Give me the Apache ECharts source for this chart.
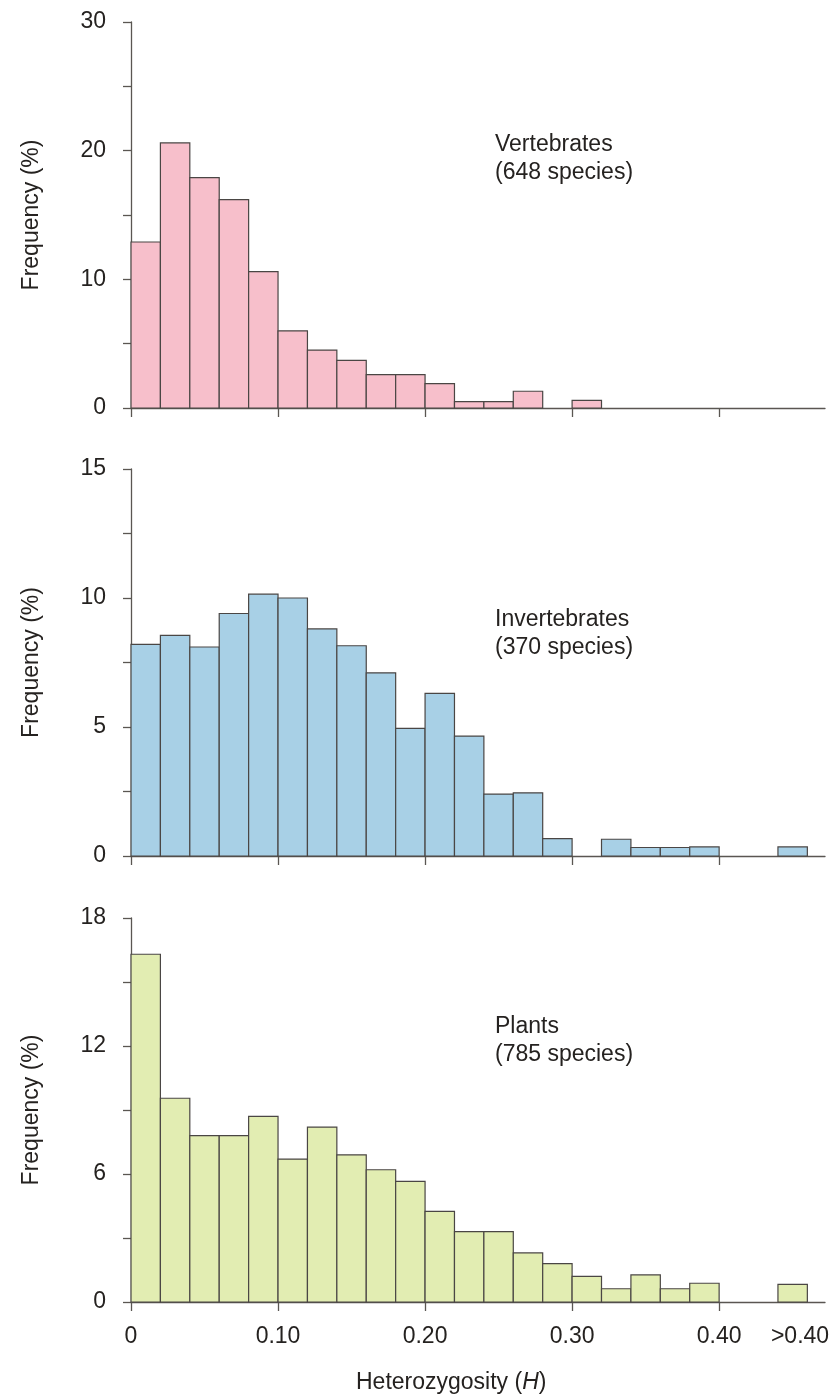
<!DOCTYPE html>
<html>
<head>
<meta charset="utf-8">
<script src="https://cdn.jsdelivr.net/npm/echarts@6/dist/echarts.min.js"></script>
<style>
  html, body { margin: 0; padding: 0; background: #ffffff; }
  #chart { width: 838px; height: 1399px; }
</style>
</head>
<body>
<div id="chart"></div>
<script>
// Histogram bins of heterozygosity H (width 0.02); the last bin holds H > 0.40
const binStarts = [0, 0.02, 0.04, 0.06, 0.08, 0.10, 0.12, 0.14, 0.16, 0.18,
                   0.20, 0.22, 0.24, 0.26, 0.28, 0.30, 0.32, 0.34, 0.36, 0.38,
                   0.40, 0.42, 0.44];
const binWidth = 0.02;

// Frequency (%) of species in each bin
const vertebrates = [12.9, 20.6, 17.9, 16.2, 10.6, 6.0, 4.5, 3.7, 2.6, 2.6,
                     1.9, 0.5, 0.5, 1.3, 0, 0.6, 0, 0, 0, 0,
                     0, 0, 0];
const invertebrates = [8.2, 8.55, 8.1, 9.4, 10.15, 10.0, 8.8, 8.15, 7.1, 4.95,
                       6.3, 4.65, 2.4, 2.45, 0.67, 0, 0.65, 0.33, 0.33, 0.35,
                       0, 0, 0.35];
const plants = [16.3, 9.55, 7.8, 7.8, 8.7, 6.7, 8.2, 6.9, 6.2, 5.65,
                4.25, 3.3, 3.3, 2.3, 1.8, 1.2, 0.62, 1.27, 0.62, 0.88,
                0, 0, 0.83];

const xTicks = [0, 0.1, 0.2, 0.3, 0.4];
const xLabelValues = [0, 0.1, 0.2, 0.3, 0.4, 0.455];
const xLabelText = { '0': '0', '0.1': '0.10', '0.2': '0.20', '0.3': '0.30', '0.4': '0.40', '0.455': '>0.40' };

const groups = [
  { name: 'Vertebrates', count: '(648 species)', data: vertebrates, max: 30, step: 10, color: '#f7bfcb' },
  { name: 'Invertebrates', count: '(370 species)', data: invertebrates, max: 15, step: 5, color: '#a8d0e6' },
  { name: 'Plants', count: '(785 species)', data: plants, max: 18, step: 6, color: '#e2edb2' }
];

const panelBoxes = [
  { top: 22, height: 386 },
  { top: 469, height: 387 },
  { top: 918, height: 384 }
];

const FONT = '"Liberation Sans", Arial, Helvetica, sans-serif';
const FS = 23;
const TEXT = '#252220';
const LINE = '#5a5652';

const chart = echarts.init(document.getElementById('chart'), null, { renderer: 'canvas' });

const grid = [], xAxis = [], yAxis = [], series = [], graphic = [];

groups.forEach(function (g, i) {
  const box = panelBoxes[i];
  grid.push({ left: 131, right: 13, top: box.top, height: box.height, containLabel: false });

  xAxis.push({
    type: 'value', gridIndex: i, min: 0, max: 0.472,
    axisLine: { show: true, onZero: false, lineStyle: { color: LINE, width: 1.3 } },
    axisTick: { show: true, customValues: xTicks, length: 9, inside: false, lineStyle: { color: LINE, width: 1.3 } },
    axisLabel: {
      show: i === 2, customValues: xLabelValues, margin: 23,
      fontFamily: FONT, fontSize: FS, color: TEXT,
      formatter: function (v) { return xLabelText[String(+v.toFixed(3))] || ''; }
    },
    splitLine: { show: false }
  });

  yAxis.push({
    type: 'value', gridIndex: i, min: 0, max: g.max, interval: g.step,
    name: 'Frequency (%)', nameLocation: 'middle', nameGap: 88, nameRotate: 90,
    nameTextStyle: { fontFamily: FONT, fontSize: FS, color: TEXT },
    axisLine: { show: true, lineStyle: { color: LINE, width: 1.3 } },
    axisTick: { show: true, length: 8, lineStyle: { color: LINE, width: 1.3 } },
    minorTick: { show: true, splitNumber: 2, length: 8, lineStyle: { color: LINE, width: 1.3 } },
    axisLabel: { margin: 25, fontFamily: FONT, fontSize: FS, color: TEXT },
    splitLine: { show: false }
  });

  const seriesData = [];
  binStarts.forEach(function (s, k) {
    if (g.data[k] > 0) seriesData.push([s, s + binWidth, g.data[k]]);
  });

  series.push({
    type: 'custom', xAxisIndex: i, yAxisIndex: i,
    data: seriesData,
    encode: { x: [0, 1], y: 2 },
    renderItem: function (params, api) {
      const p0 = api.coord([api.value(0), api.value(2)]);
      const p1 = api.coord([api.value(1), 0]);
      return {
        type: 'rect',
        shape: { x: p0[0], y: p0[1], width: p1[0] - p0[0], height: p1[1] - p0[1] },
        style: { fill: g.color, stroke: '#4a4644', lineWidth: 1.2 }
      };
    },
    z: 1
  });

  graphic.push({
    type: 'text', left: 495, top: box.top + [109, 137, 95][i],
    style: {
      text: g.name + '\n' + g.count,
      fontFamily: FONT, fontSize: FS, lineHeight: 28, fill: TEXT
    }
  });
});

graphic.push({
  type: 'text', left: 356, top: 1371,
  style: {
    text: '{r|Heterozygosity (}{i|H}{r|)}',
    rich: {
      r: { fontFamily: FONT, fontSize: FS, fill: TEXT },
      i: { fontFamily: FONT, fontSize: FS, fontStyle: 'italic', fill: TEXT }
    }
  }
});

chart.setOption({
  backgroundColor: '#ffffff',
  animation: false,
  grid: grid,
  xAxis: xAxis,
  yAxis: yAxis,
  series: series,
  graphic: graphic
});
</script>
</body>
</html>
